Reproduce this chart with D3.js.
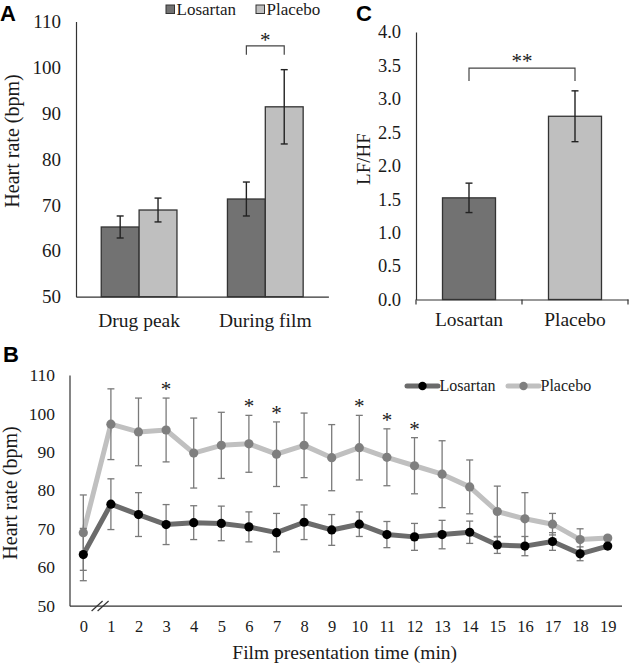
<!DOCTYPE html>
<html>
<head>
<meta charset="utf-8">
<script src="https://cdn.jsdelivr.net/npm/d3@7"></script>
<style>
  html, body { margin: 0; padding: 0; background: #fff; }
  svg { display: block; }
  text { font-family: "Liberation Serif", "Times New Roman", serif; fill: #1a1a1a; }
  .panel { font-family: "Liberation Sans", Arial, sans-serif; font-weight: bold; fill: #000; }
</style>
</head>
<body>
<svg id="chart" width="630" height="663"></svg>
<script>
// ---------------- DATA ----------------
// Panel A: heart rate by condition
const groupsA = ["Drug peak", "During film"];
const losartanA = [65.2, 71.3];
const losartanAErr = [2.4, 3.7];
const placeboA = [68.9, 91.4];
const placeboAErr = [2.6, 8.1];
const ticksA = [50, 60, 70, 80, 90, 100, 110];

// Panel C: LF/HF ratio
const groupsC = ["Losartan", "Placebo"];
const lfhf = [1.52, 2.74];
const lfhfErr = [0.22, 0.38];
const ticksC = [0, 0.5, 1.0, 1.5, 2.0, 2.5, 3.0, 3.5, 4.0];

// Panel B: heart rate across film minutes
const minutes = [0, 1, 2, 3, 4, 5, 6, 7, 8, 9, 10, 11, 12, 13, 14, 15, 16, 17, 18, 19];
const losartanB = [63.3, 76.4, 73.7, 71.1, 71.6, 71.4, 70.5, 69.0, 71.7, 69.7, 71.2, 68.5, 67.9, 68.5, 69.1, 65.8, 65.5, 66.7, 63.5, 65.5];
const losartanBErr = [6.8, 6.6, 5.7, 5.2, 4.4, 4.5, 3.9, 5.0, 4.5, 4.0, 3.2, 3.4, 3.5, 3.7, 2.9, 2.2, 2.5, 2.3, 1.8, 0.6];
const placeboB = [69.0, 97.2, 95.2, 95.7, 89.7, 91.7, 92.1, 89.4, 91.7, 88.5, 91.1, 88.6, 86.4, 84.2, 80.9, 74.5, 72.6, 71.2, 67.2, 67.6];
const placeboBErr = [9.8, 9.2, 8.8, 8.3, 9.1, 8.6, 7.4, 8.4, 8.4, 8.6, 8.4, 7.4, 7.3, 8.7, 7.0, 6.6, 6.8, 2.8, 2.8, 0.6];
const sigMinutes = [3, 6, 7, 10, 11, 12];
const ticksB = [50, 60, 70, 80, 90, 100, 110];
const seriesNames = ["Losartan", "Placebo"];

// ---------------- STYLE ----------------
const darkFill = "#727272", lightFill = "#bfbfbf", barStroke = "#333";
const axisColor = "#333";
const svg = d3.select("#chart");

function styleAxis(g, fontSize) {
  g.select(".domain").attr("stroke", axisColor).attr("stroke-width", 1.2);
  g.selectAll(".tick line").attr("stroke", axisColor);
  g.selectAll(".tick text").attr("font-size", fontSize)
    .attr("font-family", '"Liberation Serif", "Times New Roman", serif').attr("fill", "#1a1a1a");
}

// ================= PANEL A =================
{
  const yA = d3.scaleLinear().domain([50, 110]).range([296.7, 21.5]);
  const xA = d3.scaleBand().domain(groupsA).range([76, 328.4]).paddingInner(0.4).paddingOuter(0.2);
  const xSub = d3.scaleBand().domain(seriesNames).range([0, xA.bandwidth()]);
  const gA = svg.append("g");

  const yAxis = d3.axisLeft(yA).tickValues(ticksA).tickSize(0).tickSizeOuter(0).tickPadding(15).tickFormat(d3.format("d"));
  gA.append("g").attr("transform", "translate(76,0)").call(yAxis).call(g => styleAxis(g, 19));
  const xAxis = d3.axisBottom(xA).tickSize(0).tickSizeOuter(0).tickPadding(16);
  gA.append("g").attr("transform", "translate(0,296.7)").call(xAxis).call(g => styleAxis(g, 19.5));

  const rows = groupsA.flatMap((gname, i) => [
    { g: gname, s: "Losartan", v: losartanA[i], e: losartanAErr[i], fill: darkFill },
    { g: gname, s: "Placebo", v: placeboA[i], e: placeboAErr[i], fill: lightFill }
  ]);
  gA.selectAll("rect.bar").data(rows).join("rect").attr("class", "bar")
    .attr("x", d => xA(d.g) + xSub(d.s)).attr("width", xSub.bandwidth())
    .attr("y", d => yA(d.v)).attr("height", d => yA(50) - yA(d.v))
    .attr("fill", d => d.fill).attr("stroke", barStroke).attr("stroke-width", 1.3);
  const eb = gA.selectAll("g.err").data(rows).join("g").attr("stroke", "#222").attr("stroke-width", 1.4);
  eb.append("line").attr("x1", d => xA(d.g) + xSub(d.s) + xSub.bandwidth() / 2).attr("x2", d => xA(d.g) + xSub(d.s) + xSub.bandwidth() / 2)
    .attr("y1", d => yA(d.v + d.e)).attr("y2", d => yA(d.v - d.e));
  [1, -1].forEach(sgn => {
    eb.append("line").attr("x1", d => xA(d.g) + xSub(d.s) + xSub.bandwidth() / 2 - 3.5).attr("x2", d => xA(d.g) + xSub(d.s) + xSub.bandwidth() / 2 + 3.5)
      .attr("y1", d => yA(d.v + sgn * d.e)).attr("y2", d => yA(d.v + sgn * d.e));
  });

  // significance bracket (During film)
  const cx1 = xA("During film") + xSub("Losartan") + xSub.bandwidth() / 2;
  const cx2 = xA("During film") + xSub("Placebo") + xSub.bandwidth() / 2;
  const by = yA(104.7);
  gA.append("path").attr("d", `M${cx1},${by + 9}V${by}H${cx2}V${by + 9}`).attr("fill", "none").attr("stroke", "#444").attr("stroke-width", 1.2);
  gA.append("text").attr("x", (cx1 + cx2) / 2).attr("y", by + 1).attr("text-anchor", "middle").attr("font-size", 21).text("*");

  // legend
  const lg = gA.append("g");
  const legX = [166, 256];
  seriesNames.forEach((n, i) => {
    lg.append("rect").attr("x", legX[i]).attr("y", 5).attr("width", 8.5).attr("height", 8.5)
      .attr("fill", i === 0 ? darkFill : lightFill).attr("stroke", barStroke).attr("stroke-width", 1);
    lg.append("text").attr("x", legX[i] + 10.5).attr("y", 14.5).attr("font-size", 17).text(n);
  });

  gA.append("text").attr("transform", "translate(18.5,141) rotate(-90)").attr("text-anchor", "middle").attr("font-size", 20).text("Heart rate (bpm)");
  gA.append("text").attr("class", "panel").attr("x", 0).attr("y", 21).attr("font-size", 22).text("A");
}

// ================= PANEL C =================
{
  const yC = d3.scaleLinear().domain([0, 4]).range([299.5, 32]);
  const xC = d3.scaleBand().domain(groupsC).range([416, 628]).paddingInner(0.5).paddingOuter(0.25);
  const gC = svg.append("g");
  const yAxis = d3.axisLeft(yC).tickValues(ticksC).tickSize(0).tickSizeOuter(0).tickPadding(15).tickFormat(d3.format(".1f"));
  gC.append("g").attr("transform", "translate(416,0)").call(yAxis).call(g => styleAxis(g, 18.5));
  const xAxis = d3.axisBottom(xC).tickSize(0).tickSizeOuter(0).tickPadding(13);
  gC.append("g").attr("transform", "translate(0,299.5)").call(xAxis).call(g => styleAxis(g, 19.5));
  // category boundary ticks
  const bounds = d3.range(groupsC.length + 1).map(i => xC.range()[0] + i * (xC.range()[1] - xC.range()[0]) / groupsC.length);
  gC.selectAll("line.bt").data(bounds).join("line").attr("class", "bt")
    .attr("x1", d => d).attr("x2", d => d).attr("y1", yC(0)).attr("y2", yC(0) + 5).attr("stroke", axisColor).attr("stroke-width", 1.2);

  const rows = groupsC.map((g, i) => ({ g, v: lfhf[i], e: lfhfErr[i], fill: i === 0 ? darkFill : lightFill }));
  gC.selectAll("rect.bar").data(rows).join("rect").attr("class", "bar")
    .attr("x", d => xC(d.g)).attr("width", xC.bandwidth())
    .attr("y", d => yC(d.v)).attr("height", d => yC(0) - yC(d.v))
    .attr("fill", d => d.fill).attr("stroke", barStroke).attr("stroke-width", 1.3);
  const eb = gC.selectAll("g.err").data(rows).join("g").attr("stroke", "#222").attr("stroke-width", 1.4);
  const mid = d => xC(d.g) + xC.bandwidth() / 2;
  eb.append("line").attr("x1", mid).attr("x2", mid).attr("y1", d => yC(d.v + d.e)).attr("y2", d => yC(d.v - d.e));
  [1, -1].forEach(sgn => {
    eb.append("line").attr("x1", d => mid(d) - 3.5).attr("x2", d => mid(d) + 3.5)
      .attr("y1", d => yC(d.v + sgn * d.e)).attr("y2", d => yC(d.v + sgn * d.e));
  });
  const by = yC(3.46);
  const cx1 = mid(rows[0]), cx2 = mid(rows[1]);
  gC.append("path").attr("d", `M${cx1},${by + 13}V${by}H${cx2}V${by + 13}`).attr("fill", "none").attr("stroke", "#444").attr("stroke-width", 1.2);
  gC.append("text").attr("x", (cx1 + cx2) / 2).attr("y", by).attr("text-anchor", "middle").attr("font-size", 21).text("**");

  gC.append("text").attr("transform", "translate(370,159) rotate(-90)").attr("text-anchor", "middle").attr("font-size", 19).text("LF/HF");
  gC.append("text").attr("class", "panel").attr("x", 356).attr("y", 21).attr("font-size", 22).text("C");
}

// ================= PANEL B =================
{
  const yB = d3.scaleLinear().domain([50, 110]).range([605.7, 375]);
  const xB = d3.scalePoint().domain(minutes).range([69.5, 621.5]).padding(0.5);
  const gB = svg.append("g");
  const yAxis = d3.axisLeft(yB).tickValues(ticksB).tickSize(0).tickSizeOuter(0).tickPadding(14.5).tickFormat(d3.format("d"));
  gB.append("g").attr("transform", "translate(69.5,0)").call(yAxis).call(g => styleAxis(g, 17.5));
  const xAxis = d3.axisBottom(xB).tickSize(0).tickSizeOuter(0).tickPadding(15);
  gB.append("g").attr("transform", "translate(0,605.7)").call(xAxis).call(g => styleAxis(g, 16.5));

  // axis break marks
  const bx = (xB(0) + xB(1)) / 2 + 3;
  [-3, 3].forEach(o => {
    gB.append("line").attr("x1", bx + o - 5.5).attr("y1", 611).attr("x2", bx + o + 5.5).attr("y2", 601)
      .attr("stroke", "#333").attr("stroke-width", 1.2);
  });

  const series = [
    { name: "Placebo", vals: placeboB, errs: placeboBErr, line: "#c0c0c0", marker: "#7f7f7f" },
    { name: "Losartan", vals: losartanB, errs: losartanBErr, line: "#6b6b6b", marker: "#000000" }
  ];
  const lineGen = d3.line().x((d, i) => xB(minutes[i])).y(d => yB(d));
  series.forEach(s => {
    gB.append("path").datum(s.vals).attr("d", lineGen).attr("fill", "none")
      .attr("stroke", s.line).attr("stroke-width", 5).attr("stroke-linejoin", "round");
  });
  series.forEach(s => {
    const pts = minutes.map((m, i) => ({ m, v: s.vals[i], e: s.errs[i] }));
    const eg = gB.append("g").attr("stroke", "#7a7a7a").attr("stroke-width", 1.3);
    eg.selectAll("line.v").data(pts).join("line").attr("class", "v")
      .attr("x1", d => xB(d.m)).attr("x2", d => xB(d.m)).attr("y1", d => yB(d.v + d.e)).attr("y2", d => yB(d.v - d.e));
    [1, -1].forEach(sgn => {
      eg.selectAll("line.c" + sgn).data(pts).join("line").attr("class", "c" + sgn)
        .attr("x1", d => xB(d.m) - 3.5).attr("x2", d => xB(d.m) + 3.5)
        .attr("y1", d => yB(d.v + sgn * d.e)).attr("y2", d => yB(d.v + sgn * d.e));
    });
  });
  series.forEach(s => {
    gB.append("g").selectAll("circle").data(s.vals).join("circle")
      .attr("cx", (d, i) => xB(minutes[i])).attr("cy", d => yB(d)).attr("r", 4.6).attr("fill", s.marker);
  });

  // significance asterisks above placebo error bars
  gB.selectAll("text.sig").data(sigMinutes).join("text").attr("class", "sig")
    .attr("x", m => xB(m)).attr("y", m => yB(placeboB[m] + placeboBErr[m]) - 2)
    .attr("text-anchor", "middle").attr("font-size", 21).text("*");

  // legend
  const leg = [
    { name: "Losartan", x: 407, line: "#6b6b6b", marker: "#000" },
    { name: "Placebo", x: 508, line: "#c0c0c0", marker: "#7f7f7f" }
  ];
  leg.forEach(l => {
    gB.append("line").attr("x1", l.x).attr("x2", l.x + 31).attr("y1", 386).attr("y2", 386)
      .attr("stroke", l.line).attr("stroke-width", 5).attr("stroke-linecap", "round");
    gB.append("circle").attr("cx", l.x + 15.5).attr("cy", 386).attr("r", 4.2).attr("fill", l.marker);
    gB.append("text").attr("x", l.x + 32.5).attr("y", 391).attr("font-size", 16).text(l.name);
  });

  gB.append("text").attr("transform", "translate(17,493) rotate(-90)").attr("text-anchor", "middle").attr("font-size", 20).text("Heart rate (bpm)");
  gB.append("text").attr("x", xB(9) + 13).attr("y", 659).attr("text-anchor", "middle").attr("font-size", 19.5).text("Film presentation time (min)");
  gB.append("text").attr("class", "panel").attr("x", 3).attr("y", 362).attr("font-size", 22).text("B");
}
</script>
</body>
</html>
